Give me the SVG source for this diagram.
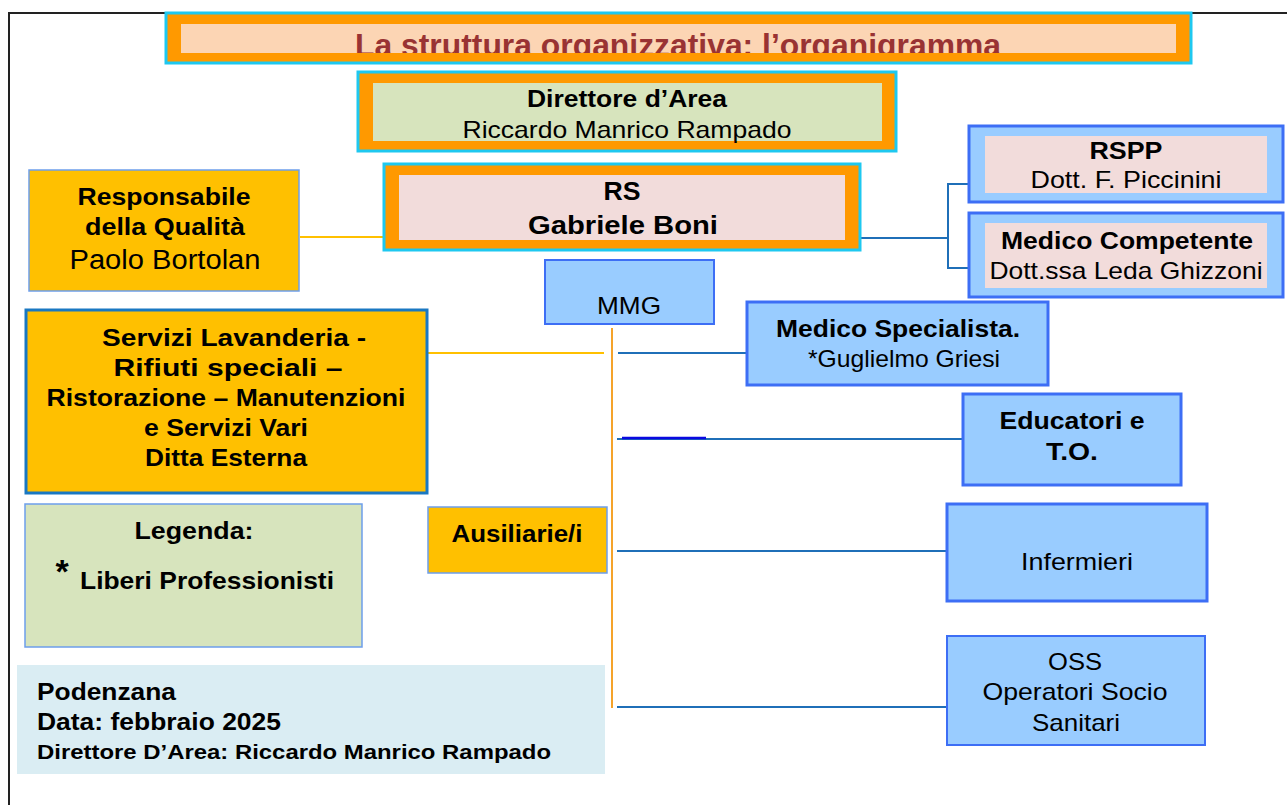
<svg xmlns="http://www.w3.org/2000/svg" width="1287" height="805" viewBox="0 0 1287 805">
<defs>
<style>
text{font-family:"Liberation Sans",Arial,sans-serif;fill:#000;text-anchor:middle;font-size:24px}
.b{font-weight:bold}
.s{text-anchor:start}
.cy{fill:#ff9900;stroke:#1ec8f0;stroke-width:3}
.bl{fill:#99ccff;stroke:#3d6ef5;stroke-width:3}
.yl{fill:#ffc000;stroke:#6d9eeb;stroke-width:1.5}
.conB{fill:none;stroke:#1f6fb8;stroke-width:2}
.conO{fill:none;stroke:#ffc000;stroke-width:2}
</style>
<clipPath id="tclip"><rect x="181" y="24" width="995" height="29"/></clipPath>
</defs>
<rect width="1287" height="805" fill="#fff"/>
<g id="frame" fill="none" stroke="#222" stroke-width="2">
<path d="M9,805 V13 H1287"/>
</g>
<g id="title">
<rect class="cy" x="166" y="13" width="1025" height="50"/>
<rect x="181" y="24" width="995" height="29" fill="#fcd5b4"/>
<text x="678" y="56" class="b" style="font-size:32px;fill:#993333" textLength="646" lengthAdjust="spacingAndGlyphs" clip-path="url(#tclip)">La struttura organizzativa: l’organigramma</text>
</g>
<g id="connectors">
<path class="conB" d="M860,238 H948 M948,184 V268 M947,184 H968 M947,268 H968"/>
<path class="conO" d="M300,237 H383"/>
<path class="conO" d="M427,353 H604"/>
<path fill="none" stroke="#f5a32a" stroke-width="2" d="M612,328 V708"/>
<path class="conB" d="M618,353 H746"/>
<path class="conB" d="M617,439 H962"/>
<path fill="none" stroke="#0a0ae0" stroke-width="2.5" d="M622,438 H706"/>
<path class="conB" d="M617,551 H946"/>
<path class="conB" d="M617,707 H947"/>
</g>
<g id="direttore">
<rect class="cy" x="358" y="72" width="538" height="79"/>
<rect x="373" y="83" width="509" height="58" fill="#d7e4bd"/>
<text x="627" y="107" class="b" style="font-size:23px" textLength="200" lengthAdjust="spacingAndGlyphs">Direttore d’Area</text>
<text x="627" y="138" textLength="329" lengthAdjust="spacingAndGlyphs">Riccardo Manrico Rampado</text>
</g>
<g id="rs">
<rect class="cy" x="384" y="164" width="476" height="86"/>
<rect x="399" y="175" width="446" height="65" fill="#f2dcdb"/>
<text x="622" y="200" class="b" style="font-size:26px" textLength="37" lengthAdjust="spacingAndGlyphs">RS</text>
<text x="623" y="234" class="b" style="font-size:26px" textLength="190" lengthAdjust="spacingAndGlyphs">Gabriele Boni</text>
</g>
<g id="rspp">
<rect class="bl" x="969" y="126" width="314" height="76"/>
<rect x="985" y="136" width="282" height="57" fill="#f2dcdb"/>
<text x="1126" y="159" class="b" textLength="73" lengthAdjust="spacingAndGlyphs">RSPP</text>
<text x="1126" y="188" textLength="191" lengthAdjust="spacingAndGlyphs">Dott. F. Piccinini</text>
</g>
<g id="medico-competente">
<rect class="bl" x="969" y="213" width="314" height="84"/>
<rect x="985" y="223" width="282" height="65" fill="#f2dcdb"/>
<text x="1127" y="249" class="b" textLength="252" lengthAdjust="spacingAndGlyphs">Medico Competente</text>
<text x="1126" y="279" textLength="273" lengthAdjust="spacingAndGlyphs">Dott.ssa Leda Ghizzoni</text>
</g>
<g id="qualita">
<rect class="yl" x="29" y="170" width="270" height="121"/>
<text x="164" y="205" class="b" textLength="173" lengthAdjust="spacingAndGlyphs">Responsabile</text>
<text x="165" y="235" class="b" textLength="160" lengthAdjust="spacingAndGlyphs">della Qualità</text>
<text x="165" y="269" style="font-size:27px" textLength="191" lengthAdjust="spacingAndGlyphs">Paolo Bortolan</text>
</g>
<g id="mmg">
<rect class="bl" x="545" y="260" width="169" height="64" style="stroke-width:2"/>
<text x="629" y="314" textLength="64" lengthAdjust="spacingAndGlyphs">MMG</text>
</g>
<g id="servizi">
<rect x="26" y="310" width="401" height="183" fill="#ffc000" stroke="#1a78c2" stroke-width="3"/>
<text x="234" y="346" class="b" textLength="264" lengthAdjust="spacingAndGlyphs">Servizi Lavanderia -</text>
<text x="228" y="376" class="b" textLength="229" lengthAdjust="spacingAndGlyphs">Rifiuti speciali –</text>
<text x="226" y="406" class="b" textLength="359" lengthAdjust="spacingAndGlyphs">Ristorazione – Manutenzioni</text>
<text x="226" y="436" class="b" textLength="164" lengthAdjust="spacingAndGlyphs">e Servizi Vari</text>
<text x="226" y="466" class="b" textLength="162" lengthAdjust="spacingAndGlyphs">Ditta Esterna</text>
</g>
<g id="medico-specialista">
<rect class="bl" x="747" y="302" width="301" height="83"/>
<text x="898" y="337" class="b" textLength="244" lengthAdjust="spacingAndGlyphs">Medico Specialista.</text>
<text x="904" y="367" textLength="192" lengthAdjust="spacingAndGlyphs">*Guglielmo Griesi</text>
</g>
<g id="educatori">
<rect class="bl" x="963" y="394" width="218" height="91"/>
<text x="1072" y="429" class="b" textLength="145" lengthAdjust="spacingAndGlyphs">Educatori e</text>
<text x="1072" y="460" class="b" textLength="52" lengthAdjust="spacingAndGlyphs">T.O.</text>
</g>
<g id="ausiliarie">
<rect class="yl" x="428" y="507" width="179" height="66"/>
<text x="517" y="542" class="b" textLength="131" lengthAdjust="spacingAndGlyphs">Ausiliarie/i</text>
</g>
<g id="infermieri">
<rect class="bl" x="947" y="504" width="260" height="97"/>
<text x="1077" y="570" textLength="112" lengthAdjust="spacingAndGlyphs">Infermieri</text>
</g>
<g id="oss">
<rect class="bl" x="947" y="636" width="258" height="109" style="stroke-width:2"/>
<text x="1075" y="670" textLength="54" lengthAdjust="spacingAndGlyphs">OSS</text>
<text x="1075" y="700" textLength="185" lengthAdjust="spacingAndGlyphs">Operatori Socio</text>
<text x="1076" y="731" textLength="88" lengthAdjust="spacingAndGlyphs">Sanitari</text>
</g>
<g id="legenda">
<rect x="25" y="504" width="337" height="143" fill="#d7e4bd" stroke="#6d9eeb" stroke-width="1.5"/>
<text x="194" y="539" class="b" textLength="119" lengthAdjust="spacingAndGlyphs">Legenda:</text>
<text x="62" y="583" class="b" style="font-size:34px">*</text>
<text x="80" y="589" class="b s" textLength="254" lengthAdjust="spacingAndGlyphs">Liberi Professionisti</text>
</g>
<g id="footer">
<rect x="17" y="665" width="588" height="109" fill="#daedf3"/>
<text x="37" y="700" class="b s" textLength="139" lengthAdjust="spacingAndGlyphs">Podenzana</text>
<text x="37" y="730" class="b s" textLength="244" lengthAdjust="spacingAndGlyphs">Data: febbraio 2025</text>
<text x="37" y="759" class="b s" style="font-size:20px" textLength="514" lengthAdjust="spacingAndGlyphs">Direttore D’Area: Riccardo Manrico Rampado</text>
</g>
</svg>
